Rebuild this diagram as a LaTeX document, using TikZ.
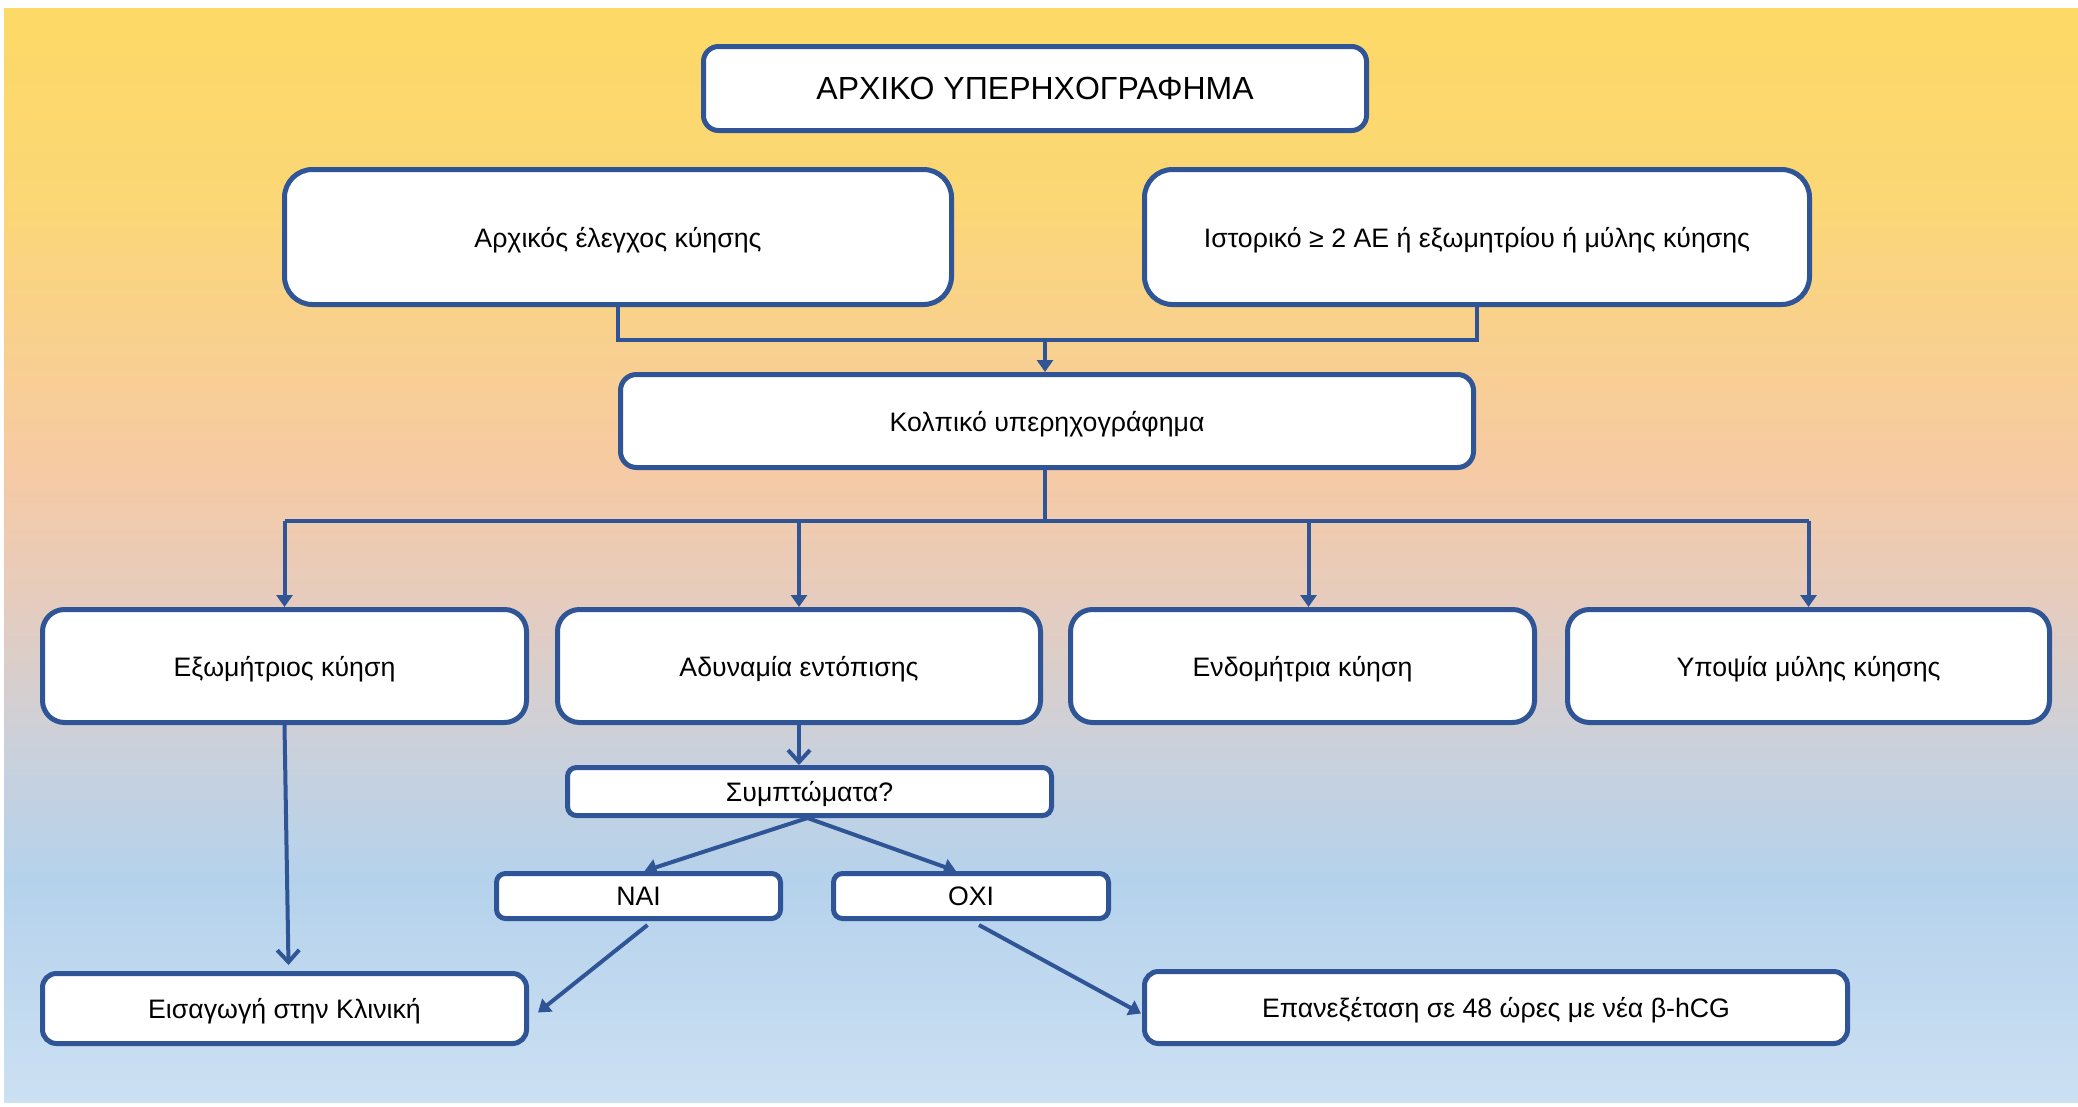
\documentclass[tikz,border=0pt]{standalone}
\usepackage{fontspec}
\setmainfont{Liberation Sans}
\usetikzlibrary{arrows.meta,calc}

\definecolor{edge}{RGB}{47,85,151}
\definecolor{bgA}{RGB}{253,217,102}
\definecolor{bgB}{RGB}{251,215,118}
\definecolor{bgC}{RGB}{246,202,164}
\definecolor{bgD}{RGB}{230,204,190}
\definecolor{bgE}{RGB}{201,209,221}
\definecolor{bgF}{RGB}{181,210,236}
\definecolor{bgG}{RGB}{204,224,242}

\tikzset{
  card/.style={draw=edge, line width=5pt, fill=white, rounded corners=#1,
    inner sep=0pt, text depth=0pt, font=\fontsize{26.7}{31}\selectfont, text=black},
  card/.default=20pt,
  link/.style={draw=edge, line width=4pt},
  tip/.style={link, -{Triangle[length=12pt,width=16pt]}},
  barb/.style={link, -{Straight Barb[length=12pt,width=22pt]}},
}

\begin{document}
\begin{tikzpicture}[x=1pt,y=-1pt]
\useasboundingbox (0,0) rectangle (2078,1106);

% background: vertical gradient built from stacked bands
\fill[top color=bgA, bottom color=bgB] (4,8) rectangle (2078,200);
\fill[top color=bgB, bottom color=bgC] (4,199.5) rectangle (2078,470);
\fill[top color=bgC, bottom color=bgD] (4,469.5) rectangle (2078,600);
\fill[top color=bgD, bottom color=bgE] (4,599.5) rectangle (2078,760);
\fill[top color=bgE, bottom color=bgF] (4,759.5) rectangle (2078,880);
\fill[top color=bgF, bottom color=bgG] (4,879.5) rectangle (2078,1102);

% boxes
\node[card=15pt, minimum width=663pt, minimum height=84pt, font=\fontsize{32}{36}\selectfont]
  (top) at (1035,88.5) {ΑΡΧΙΚΟ ΥΠΕΡΗΧΟΓΡΑΦΗΜΑ};
\node[card=28pt, minimum width=667pt, minimum height=135pt] (init) at (618,237) {Αρχικός έλεγχος κύησης};
\node[card=28pt, minimum width=665pt, minimum height=135pt] (hist) at (1477,237) {Ιστορικό ≥ 2 ΑΕ ή εξωμητρίου ή μύλης κύησης};
\node[card=16pt, minimum width=853pt, minimum height=93pt] (tvus) at (1047,421) {Κολπικό υπερηχογράφημα};

\node[card=22pt, minimum width=484pt, minimum height=113pt] (ect) at (284.5,666) {Εξωμήτριος κύηση};
\node[card=22pt, minimum width=483pt, minimum height=113pt] (pul) at (799,666) {Αδυναμία εντόπισης};
\node[card=22pt, minimum width=464pt, minimum height=113pt] (iup) at (1302.5,666) {Ενδομήτρια κύηση};
\node[card=22pt, minimum width=482pt, minimum height=113pt] (mol) at (1808.5,666) {Υποψία μύλης κύησης};

\node[card=9pt, minimum width=484pt, minimum height=48pt] (sym) at (809.5,791.5) {Συμπτώματα?};
\node[card=9pt, minimum width=284pt, minimum height=45pt] (yes) at (638.5,896) {ΝΑΙ};
\node[card=9pt, minimum width=275pt, minimum height=45pt] (no) at (971,896) {ΟΧΙ};

\node[card=14pt, minimum width=484pt, minimum height=70pt] (adm) at (284.5,1008.5) {Εισαγωγή στην Κλινική};
\node[card=14pt, minimum width=703pt, minimum height=72pt] (rep) at (1496,1007.5) {Επανεξέταση σε 48 ώρες με νέα β-hCG};

% merge of the two entry paths
\coordinate (merge) at (1045,340);
\draw[link] (init.south) -- (init.south |- merge) -- (hist.south |- merge) -- (hist.south);
\draw[tip] (merge) -- (merge |- tvus.north);

% fan-out to the four findings
\coordinate (hub) at (1045,521);
\draw[link] (merge |- tvus.south) -- (hub);
\draw[link] (ect.north |- hub) -- (mol.north |- hub);
\draw[tip] (ect.north |- hub) -- (ect.north);
\draw[tip] (pul.north |- hub) -- (pul.north);
\draw[tip] ($(iup.north |- hub)+(6,0)$) -- ($(iup.north)+(6,0)$);
\draw[tip] (mol.north |- hub) -- (mol.north);

% follow-up paths
\draw[barb] (ect.south) -- ($(adm.north)+(4,-6)$);
\draw[barb] (pul.south) -- (pul.south |- sym.north);
\draw[tip] ($(sym.south)+(-2,0)$) -- ($(yes.north)+(6,0)$);
\draw[tip] ($(sym.south)+(-2,0)$) -- ($(no.north)+(-15,0)$);
\draw[tip] ($(yes.south)+(9,4)$) -- ($(adm.east)+(9,4)$);
\draw[tip] ($(no.south)+(8,4)$) -- ($(rep.west)+(-1,6)$);
\end{tikzpicture}
\end{document}
